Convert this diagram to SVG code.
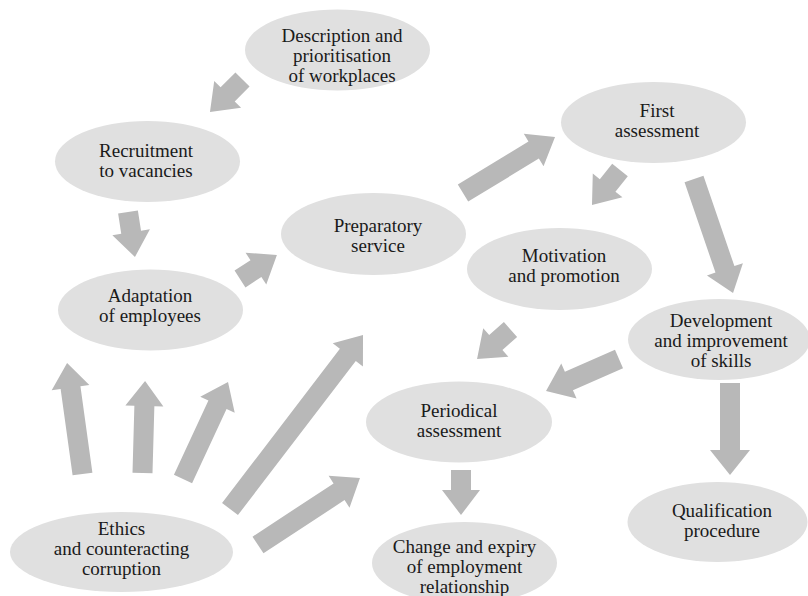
<svg xmlns="http://www.w3.org/2000/svg" width="808" height="596" viewBox="0 0 808 596">
<style>
.node ellipse{fill:#e0e0e0;}
.node text{font-family:'Liberation Serif','Times New Roman',serif;font-size:19px;fill:#1a1a1a;text-anchor:middle;}
.arr{fill:#b8b8b8;}
</style>
<rect width="808" height="596" fill="#ffffff"/>
<g id="connectors">
<path class="arr" transform="translate(242.5,79.5) rotate(135)" d="M0,-10 L21,-10 L21,-19 L46,0 L21,19 L21,10 L0,10 Z"/>
<path class="arr" transform="translate(128,212) rotate(81.2)" d="M0,-10 L20.5,-10 L20.5,-19 L45.5,0 L20.5,19 L20.5,10 L0,10 Z"/>
<path class="arr" transform="translate(240,279) rotate(-33)" d="M0,-10 L19,-10 L19,-19 L44,0 L19,19 L19,10 L0,10 Z"/>
<path class="arr" transform="translate(463,193) rotate(-31.3)" d="M0,-10 L82.7,-10 L82.7,-19 L107.7,0 L82.7,19 L82.7,10 L0,10 Z"/>
<path class="arr" transform="translate(620,170) rotate(128.7)" d="M0,-10 L19.8,-10 L19.8,-19 L44.8,0 L19.8,19 L19.8,10 L0,10 Z"/>
<path class="arr" transform="translate(694,179) rotate(71.1)" d="M0,-10 L95.5,-10 L95.5,-19 L120.5,0 L95.5,19 L95.5,10 L0,10 Z"/>
<path class="arr" transform="translate(510.5,329.5) rotate(138.6)" d="M0,-10 L19.6,-10 L19.6,-19 L44.6,0 L19.6,19 L19.6,10 L0,10 Z"/>
<path class="arr" transform="translate(619,359) rotate(156.3)" d="M0,-10 L54.7,-10 L54.7,-19 L79.7,0 L54.7,19 L54.7,10 L0,10 Z"/>
<path class="arr" transform="translate(730,383) rotate(90)" d="M0,-10 L67,-10 L67,-20 L92,0 L67,20 L67,10 L0,10 Z"/>
<path class="arr" transform="translate(461,470) rotate(90)" d="M0,-10 L20,-10 L20,-19 L45,0 L20,19 L20,10 L0,10 Z"/>
<path class="arr" transform="translate(82.5,474) rotate(-97.9)" d="M0,-10 L87.1,-10 L87.1,-19 L112.1,0 L87.1,19 L87.1,10 L0,10 Z"/>
<path class="arr" transform="translate(142.5,473) rotate(-88.4)" d="M0,-10 L67,-10 L67,-19 L92,0 L67,19 L67,10 L0,10 Z"/>
<path class="arr" transform="translate(183,479) rotate(-65.1)" d="M0,-10 L81.9,-10 L81.9,-19 L106.9,0 L81.9,19 L81.9,10 L0,10 Z"/>
<path class="arr" transform="translate(230,509) rotate(-52.6)" d="M0,-10 L194,-10 L194,-19 L219,0 L194,19 L194,10 L0,10 Z"/>
<path class="arr" transform="translate(258,545) rotate(-33.3)" d="M0,-10 L97,-10 L97,-19 L122,0 L97,19 L97,10 L0,10 Z"/>
</g>
<g id="description" class="node">
<ellipse cx="337.5" cy="50" rx="92.5" ry="40.5"/>
<text x="342" y="42">Description and</text>
<text x="342" y="62">prioritisation</text>
<text x="342" y="82">of workplaces</text>
</g>
<g id="recruitment" class="node">
<ellipse cx="147.5" cy="161.5" rx="92.5" ry="40.5"/>
<text x="146" y="157">Recruitment</text>
<text x="146" y="177">to vacancies</text>
</g>
<g id="adaptation" class="node">
<ellipse cx="150.5" cy="310" rx="92.5" ry="40.5"/>
<text x="150" y="302">Adaptation</text>
<text x="150" y="322">of employees</text>
</g>
<g id="preparatory" class="node">
<ellipse cx="373.5" cy="234" rx="92.5" ry="41"/>
<text x="378" y="232">Preparatory</text>
<text x="378" y="252">service</text>
</g>
<g id="first" class="node">
<ellipse cx="653.5" cy="122.5" rx="92.5" ry="40.5"/>
<text x="657" y="117">First</text>
<text x="657" y="137">assessment</text>
</g>
<g id="motivation" class="node">
<ellipse cx="559.5" cy="269" rx="92.5" ry="41"/>
<text x="564" y="262">Motivation</text>
<text x="564" y="282">and promotion</text>
</g>
<g id="development" class="node">
<ellipse cx="719" cy="339.5" rx="91" ry="40.5"/>
<text x="721" y="327">Development</text>
<text x="721" y="347">and improvement</text>
<text x="721" y="367">of skills</text>
</g>
<g id="periodical" class="node">
<ellipse cx="459" cy="422" rx="93" ry="40.5"/>
<text x="459" y="417">Periodical</text>
<text x="459" y="437">assessment</text>
</g>
<g id="qualification" class="node">
<ellipse cx="717.5" cy="522" rx="90" ry="40"/>
<text x="722" y="517">Qualification</text>
<text x="722" y="537">procedure</text>
</g>
<g id="change" class="node">
<ellipse cx="464.5" cy="563" rx="92.5" ry="41"/>
<text x="464.5" y="553">Change and expiry</text>
<text x="464.5" y="573">of employment</text>
<text x="464.5" y="593">relationship</text>
</g>
<g id="ethics" class="node">
<ellipse cx="121.5" cy="552" rx="111.5" ry="40"/>
<text x="121.5" y="535">Ethics</text>
<text x="121.5" y="555">and counteracting</text>
<text x="121.5" y="575">corruption</text>
</g>
</svg>
